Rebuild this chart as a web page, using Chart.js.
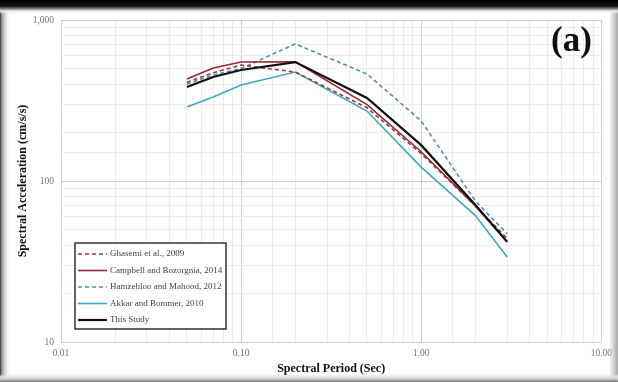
<!DOCTYPE html>
<html>
<head>
<meta charset="utf-8">
<script src="https://cdn.jsdelivr.net/npm/chart.js@4.4.1/dist/chart.umd.min.js"></script>
<style>
  html, body { margin: 0; padding: 0; background: #fff; }
  #wrap { position: relative; width: 618px; height: 382px; overflow: hidden; background: #fff; }
  #spectra { position: absolute; left: 0; top: 0; }
  .edge { position: absolute; pointer-events: none; }
  #edgeTop { left: 0; top: 0; width: 618px; height: 14px;
    background: linear-gradient(to bottom, #000 0px, #111 6px, #888 9px, #ececec 11px, rgba(255,255,255,0) 14px); }
  #edgeLeft { left: 0; top: 0; width: 9px; height: 382px;
    background: linear-gradient(to right, #333 0px, #9c9c9c 2px, #d6d6d6 5px, rgba(255,255,255,0) 9px); }
  #edgeRight { right: 0; top: 0; width: 9px; height: 382px;
    background: linear-gradient(to left, #a8a8a8 0px, #cdcdcd 4px, rgba(255,255,255,0) 9px); }
  #edgeBottom { left: 0; bottom: 0; width: 618px; height: 8px;
    background: linear-gradient(to top, #6a6a6a 0px, #b8b8b8 2px, #e4e4e4 5px, rgba(255,255,255,0) 8px); }
  #tag {
    position: absolute; left: 551px; top: 20px; font: bold 35px "Liberation Serif", serif; color: #111;
  }
</style>
</head>
<body>
<div id="wrap">
  <canvas id="spectra" width="618" height="382"></canvas>
  <div id="tag">(a)</div>
  <div class="edge" id="edgeLeft"></div>
  <div class="edge" id="edgeRight"></div>
  <div class="edge" id="edgeBottom"></div>
  <div class="edge" id="edgeTop"></div>
</div>
<script>
const periods = [0.05, 0.07, 0.1, 0.2, 0.5, 1.0, 2.0, 3.0];
const ghasemi = [410, 470, 525, 475, 285, 148, 70, 44];
const campbell = [430, 503, 548, 550, 298, 152, 70, 42];
const hamzehloo = [400, 455, 500, 710, 462, 236, 75, 47];
const akkar = [288, 332, 395, 475, 272, 122, 61, 33.7];
const thisStudy = [384, 443, 489, 548, 328, 167, 71, 42];

const seriesNames = ["Ghasemi et al., 2009", "Campbell and Bozorgnia, 2014", "Hamzehloo and Mahood, 2012", "Akkar and Bommer, 2010", "This Study"];

function pts(vals) {
    return periods.map((p, i) => ({ x: p, y: vals[i] }));
}

const datasets = [
    { label: seriesNames[0], data: pts(ghasemi), borderColor: "#a3343b", borderWidth: 1.6, borderDash: [4, 3], order: 3 },
    { label: seriesNames[1], data: pts(campbell), borderColor: "#952a30", borderWidth: 1.6, order: 2 },
    { label: seriesNames[2], data: pts(hamzehloo), borderColor: "#4b93a8", borderWidth: 1.6, borderDash: [4, 3], order: 4 },
    { label: seriesNames[3], data: pts(akkar), borderColor: "#3aa9c6", borderWidth: 1.6, order: 5 },
    { label: seriesNames[4], data: pts(thisStudy), borderColor: "#111111", borderWidth: 2.2, order: 1 }
];

// legend box drawn inside the plot, lower left
const boxLegend = {
    id: "boxLegend",
    afterDraw(chart) {
        const c = chart.ctx;
        const x0 = 75, y0 = 243, w = 151, h = 86;
        c.save();
        c.fillStyle = "#fff";
        c.fillRect(x0, y0, w, h);
        c.strokeStyle = "#111";
        c.lineWidth = 1.3;
        c.strokeRect(x0, y0, w, h);
        c.font = "9px 'Liberation Serif', serif";
        c.textBaseline = "middle";
        chart.data.datasets.forEach((ds, i) => {
            const y = y0 + 11 + i * 16.5;
            c.beginPath();
            c.setLineDash(ds.borderDash || []);
            c.strokeStyle = ds.borderColor;
            c.lineWidth = ds.borderWidth;
            c.moveTo(x0 + 3, y);
            c.lineTo(x0 + 32, y);
            c.stroke();
            c.setLineDash([]);
            c.fillStyle = "#444";
            c.fillText(ds.label, x0 + 35, y);
        });
        c.restore();
    }
};

function isDecade(v) {
    const l = Math.log10(v);
    return Math.abs(l - Math.round(l)) < 1e-6;
}

new Chart(document.getElementById("spectra").getContext("2d"), {
    type: "line",
    data: { datasets: datasets },
    options: {
        responsive: false,
        animation: false,
        events: [],
        elements: { point: { radius: 0 }, line: { tension: 0, fill: false } },
        layout: { padding: { top: 20, right: 14, left: 0, bottom: 0 } },
        plugins: { legend: { display: false }, tooltip: { enabled: false } },
        scales: {
            x: {
                type: "logarithmic",
                min: 0.01,
                max: 10,
                afterFit: s => { s.height = 40; },
                grid: {
                    drawTicks: false,
                    color: ctx => isDecade(ctx.tick.value) ? "#cfcfcf" : "#ececec",
                    lineWidth: 1
                },
                border: { display: false },
                ticks: {
                    padding: 6,
                    autoSkip: false,
                    maxRotation: 0,
                    color: "#777",
                    font: { family: "'Liberation Serif', serif", size: 9.5 },
                    callback: v => isDecade(v) ? Number(v).toFixed(2) : ""
                },
                title: {
                    display: true,
                    text: "Spectral Period (Sec)",
                    color: "#111",
                    padding: { top: 0, bottom: 6 },
                    font: { family: "'Liberation Serif', serif", size: 12, weight: "bold" }
                }
            },
            y: {
                type: "logarithmic",
                min: 10,
                max: 1000,
                afterFit: s => { s.width = 61; },
                grid: {
                    drawTicks: false,
                    color: ctx => isDecade(ctx.tick.value) ? "#cfcfcf" : "#ececec",
                    lineWidth: 1
                },
                border: { display: false },
                ticks: {
                    padding: 7,
                    autoSkip: false,
                    color: "#777",
                    font: { family: "'Liberation Serif', serif", size: 9.5 },
                    callback: v => isDecade(v) ? Number(v).toLocaleString("en-US") : ""
                },
                title: {
                    display: true,
                    text: "Spectral Acceleration (cm/s/s)",
                    color: "#111",
                    padding: { top: 16, bottom: 0 },
                    font: { family: "'Liberation Serif', serif", size: 12, weight: "bold" }
                }
            }
        }
    },
    plugins: [boxLegend]
});
</script>
</body>
</html>
